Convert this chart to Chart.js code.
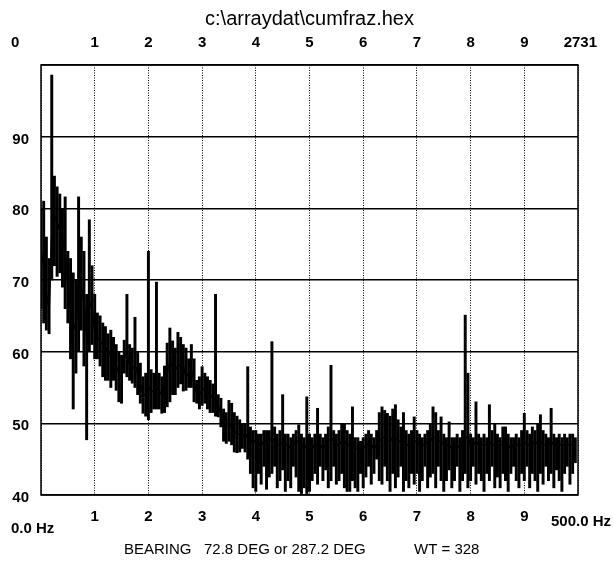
<!DOCTYPE html>
<html>
<head>
<meta charset="utf-8">
<script src="https://cdn.jsdelivr.net/npm/chart.js@4/dist/chart.umd.min.js"></script>
<style>
  html, body { margin: 0; padding: 0; background: #fff; }
  #wrap { width: 615px; height: 563px; position: relative; }
</style>
</head>
<body>
<div id="wrap"><canvas id="spectrum" width="615" height="563"></canvas></div>
<script>
// Spectrum file name shown above the plot
const TITLE = 'c:\\arraydat\\cumfraz.hex';

// Width of one frequency bin (Hz); bin i sits at i * BIN_HZ
const BIN_HZ = 2.5;

// Highest level reached inside each bin (dB)
const peakDb = [
  80, 81, 76, 73, 98.6, 84.5, 83, 82, 80, 81.6,
  74, 73, 71, 70, 81.6, 76, 74, 68, 78.4, 72,
  68, 65.4, 65, 64, 63.5, 62.5, 63, 62, 61, 60,
  59.5, 61.6, 68, 61, 60.5, 64.8, 60, 58.4, 56.5, 57,
  74, 57.5, 57, 69.7, 57, 56.5, 58, 61.2, 63.3, 61.5,
  60.5, 62.7, 62, 61, 60.5, 59, 61, 59, 56, 56.5,
  57.9, 57, 56.5, 56, 55.5, 68, 54, 53.5, 52, 51.5,
  53.2, 52.8, 51.5, 51, 50.5, 50, 50, 57.9, 49.5, 49,
  49, 48.5, 48.5, 49, 49, 49, 61.4, 49.5, 48.5, 49,
  54, 48.5, 48.5, 48, 48.5, 49, 49.8, 48.5, 48, 53.7,
  48.5, 48, 48.5, 52.1, 48.5, 48, 48.5, 49.5, 58.1, 49,
  48.5, 49, 50, 50, 49, 48.5, 52.3, 48, 48, 47.5,
  48, 48.5, 49, 48.5, 48, 49, 51.5, 52.3, 51.8, 51.4,
  51, 52, 52.6, 50.5, 49.5, 51.5, 49, 48.5, 49, 50.9,
  49, 48.5, 48, 48.5, 49, 50, 52.3, 51.5, 49, 50.9,
  48.5, 48, 50.2, 48, 48, 48.5, 48, 49, 65.1, 57,
  48.5, 48, 53, 48.5, 48, 48.5, 48, 52.6, 49, 50,
  48.5, 48, 49.5, 49.5, 48.5, 48, 48, 48.5, 48, 49,
  51.4, 49, 48.5, 49.5, 49, 50, 51.2, 49, 48.5, 48,
  52.1, 48.5, 48, 48.5, 48, 48.5, 48, 48.5, 48.5, 48
];

// Averaged level of each bin (dB), the dark trace
const levelDb = [
  74, 72, 68, 66, 76, 79, 78, 77, 76, 74,
  69, 66, 64, 63, 70, 69, 67, 62, 67, 66,
  63, 62, 61.5, 61, 60.5, 60, 59.5, 59, 58, 57,
  56.5, 59, 60, 58, 57.5, 58, 57, 55.5, 54, 54,
  55, 54.5, 54.5, 55, 54.5, 54, 55, 57, 58.5, 58,
  57.5, 58, 58, 58, 56.5, 57, 57.5, 56, 54, 54,
  54.5, 55, 54.5, 54, 53.5, 53.5, 52.5, 51.5, 50, 50,
  50, 49.5, 49, 48.5, 48.5, 48.5, 48, 48.5, 47.5, 47.5,
  47.5, 47, 47, 47.5, 47.5, 47.5, 48, 47.5, 47, 47,
  47.5, 47, 47, 46.5, 47, 47.5, 47.5, 47, 46.5, 47,
  47, 46.5, 47, 47, 47, 46.5, 47, 47.5, 48, 47.5,
  47, 47, 47.5, 47.5, 47, 47, 47.5, 46.5, 46.5, 46.5,
  46.5, 47, 47, 47, 46.5, 47, 47.5, 48, 48, 47.5,
  47.5, 48, 48, 47.5, 47.5, 47.5, 47, 47, 47, 47.5,
  47.5, 47, 47, 47, 47.5, 47.5, 48, 48, 47.5, 47.5,
  47, 47, 47, 46.5, 47, 47, 46.5, 47, 48, 48,
  47, 47, 47.5, 47, 47, 47, 47, 47.5, 47, 47,
  47, 47, 47, 47, 47, 46.5, 47, 47, 47, 47,
  47.5, 47, 47, 47.5, 47, 47.5, 47.5, 47, 47, 47,
  47.5, 47, 47, 47, 47, 47, 47, 47, 47, 47
];

// Lowest level reached inside each bin (dB)
const dipDb = [
  66, 64, 63, 62.5, 70, 72, 70.5, 71, 69, 66,
  64, 59, 52, 57, 60, 63, 58, 47.7, 60, 61,
  59, 59, 58, 56.5, 56, 56, 55, 56, 54.6, 53,
  52.8, 57, 56.5, 56, 55.6, 55, 54, 52.8, 51.4, 51,
  50.5, 51.5, 52, 52, 52, 51.4, 51.5, 52.3, 53, 54,
  54, 55, 55.5, 54.5, 54.6, 55, 55, 53, 52.8, 52,
  52.5, 52.8, 52, 51.5, 51.5, 51, 50.9, 49.5, 47.5, 47.2,
  47.5, 47, 46, 45.9, 46, 46.5, 46, 45, 43, 41,
  40.5, 43, 41.5, 44, 40.8, 42.5, 43, 44, 41, 42,
  43.5, 40.5, 42, 41, 44, 42.5, 40.5, 40.2, 41, 40.2,
  40.5, 42, 43, 41.5, 44, 42, 43.5, 41, 42, 44,
  41.5, 42, 43, 41, 40.5, 40.5, 42, 41, 40.5, 43,
  41, 42.5, 44, 41.5, 43, 45, 42, 41.5, 44, 42,
  40.5, 43, 41, 42.5, 44, 40.5, 42, 41, 43, 41.5,
  43, 40.5, 42, 44, 41, 42.5, 43, 41, 44, 42,
  40.5, 42, 43.5, 41, 42, 44, 40.5, 42, 43, 41,
  42, 44, 41.5, 43, 42, 40.5, 43, 42, 44, 41,
  42.5, 41, 43, 42, 40.5, 43, 44, 42, 41, 43,
  42, 44, 41, 43, 42, 40.5, 43, 41.5, 44, 42,
  43, 41, 43.5, 42, 40.5, 43, 44, 41.5, 43, 44.5
];

// Axis labelling
const yTickValues = [40, 50, 60, 70, 80, 90];
const xDivisionLabels = ['1', '2', '3', '4', '5', '6', '7', '8', '9'];
const topStartLabel = '0';
const topEndLabel = '2731';
const freqStartLabel = '0.0 Hz';
const freqEndLabel = '500.0 Hz';
const footerParts = ['BEARING', '72.8 DEG or 287.2 DEG', 'WT = 328'];

const FREQ_MAX = 500;
const DIVISION_HZ = 50;
const FONT = '"Liberation Sans", Arial, Helvetica, sans-serif';

const bandPoints = peakDb.map((p, i) => ({ x: i * BIN_HZ, y: [dipDb[i], p] }));
const levelPoints = levelDb.map((v, i) => ({ x: i * BIN_HZ, y: v }));

// Frame, title, top scale labels and footer text
const decorations = {
  id: 'decorations',
  afterDatasetsDraw(chart) {
    const { ctx, chartArea: a } = chart;
    ctx.save();
    ctx.strokeStyle = '#000';
    ctx.lineWidth = 1.5;
    ctx.strokeRect(a.left, a.top, a.right - a.left, a.bottom - a.top);
    ctx.restore();
  },
  afterDraw(chart) {
    const { ctx, chartArea: a } = chart;
    const xs = chart.scales.x;
    ctx.save();
    ctx.fillStyle = '#000';
    ctx.textBaseline = 'middle';

    ctx.font = '20px ' + FONT;
    ctx.textAlign = 'center';
    ctx.fillText(TITLE, (a.left + a.right) / 2, 19);

    ctx.font = 'bold 15px ' + FONT;
    ctx.textAlign = 'left';
    ctx.fillText(topStartLabel, 11, 43);
    ctx.textAlign = 'center';
    xDivisionLabels.forEach((t, i) => {
      ctx.fillText(t, xs.getPixelForValue((i + 1) * DIVISION_HZ), 43);
    });
    ctx.textAlign = 'right';
    ctx.fillText(topEndLabel, 597, 43);

    ctx.textAlign = 'left';
    ctx.fillText(freqStartLabel, 11, 529);
    ctx.textAlign = 'right';
    ctx.fillText(freqEndLabel, 611, 522);

    ctx.font = '15px ' + FONT;
    ctx.textAlign = 'left';
    ctx.fillText(footerParts[0], 124, 550);
    ctx.fillText(footerParts[1], 204, 550);
    ctx.fillText(footerParts[2], 414, 550);
    ctx.restore();
  }
};

new Chart(document.getElementById('spectrum'), {
  type: 'bar',
  data: {
    datasets: [
      {
        type: 'line',
        data: levelPoints,
        borderColor: '#000',
        borderWidth: 1.8,
        pointRadius: 0,
        tension: 0,
        order: 0
      },
      {
        type: 'bar',
        data: bandPoints,
        backgroundColor: '#000',
        borderWidth: 0,
        barThickness: 2.3,
        grouped: false,
        order: 1
      }
    ]
  },
  options: {
    responsive: false,
    animation: false,
    devicePixelRatio: 1,
    layout: { padding: { top: 65, right: 37, left: 0, bottom: 0 } },
    plugins: { legend: { display: false }, tooltip: { enabled: false } },
    scales: {
      x: {
        type: 'linear',
        min: 0,
        max: FREQ_MAX,
        offset: false,
        afterFit: (s) => { s.height = 68; },
        ticks: {
          stepSize: DIVISION_HZ,
          autoSkip: false,
          maxRotation: 0,
          padding: 13,
          color: '#000',
          font: { family: FONT, size: 15, weight: 'bold' },
          callback: (v) => (v > 0 && v < FREQ_MAX) ? xDivisionLabels[Math.round(v / DIVISION_HZ) - 1] : ''
        },
        grid: { color: '#000', lineWidth: 1, drawTicks: false, offset: false },
        border: { display: false, dash: [1, 1.5] }
      },
      y: {
        min: 40,
        max: 100,
        afterFit: (s) => { s.width = 41; },
        ticks: {
          stepSize: 10,
          padding: 12,
          labelOffset: 3,
          color: '#000',
          font: { family: FONT, size: 15, weight: 'bold' },
          callback: (v) => yTickValues.includes(v) ? String(v) : ''
        },
        grid: { color: '#000', lineWidth: 1.5, drawTicks: false },
        border: { display: false }
      }
    }
  },
  plugins: [decorations]
});
</script>
</body>
</html>
